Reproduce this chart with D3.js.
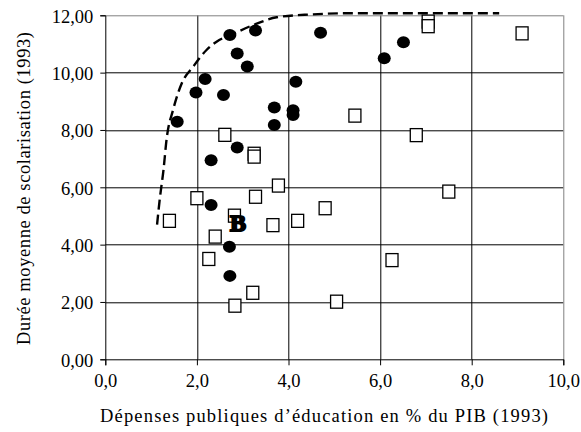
<!DOCTYPE html>
<html>
<head>
  <script src="https://d3js.org/d3.v7.min.js"></script>
  <style>
    body { margin: 0; background: #fff; }
    text { font-family: "Liberation Serif", "Times New Roman", serif; fill: #000; }
    .grid line { stroke: #000; stroke-width: 1; }
    .axis path, .axis line { stroke: #000; }
    .square { fill: #fff; stroke: #000; stroke-width: 1.3; }
    .dot { fill: #000; }
  </style>
</head>
<body>
  <svg width="581" height="432"></svg>
  <script>
    // filled circles
    var dotX = [2.72, 3.28, 2.88, 3.10, 2.18, 1.98, 2.58, 1.57, 3.69, 3.69, 4.10, 4.10, 4.16, 4.70, 6.51, 6.09, 2.88, 2.31, 2.31, 2.71, 2.72];
    var dotY = [11.31, 11.47, 10.67, 10.21, 9.78, 9.31, 9.22, 8.29, 8.78, 8.17, 8.69, 8.52, 9.68, 11.39, 11.06, 10.50, 7.39, 6.94, 5.38, 3.93, 2.91];

    // open squares
    var sqX = [2.61, 3.25, 3.25, 2.00, 3.28, 3.78, 1.40, 2.82, 2.40, 3.66, 4.20, 2.26, 3.22, 2.83, 4.80, 6.26, 5.05, 7.05, 7.05, 9.10, 5.45, 6.79, 7.50];
    var sqY = [7.83, 7.17, 7.07, 5.62, 5.67, 6.06, 4.83, 5.01, 4.28, 4.68, 4.83, 3.50, 2.32, 1.87, 5.27, 3.46, 2.01, 11.78, 11.62, 11.37, 8.50, 7.82, 5.85];

    // odd black marker
    var labelX = [2.90];
    var labelY = [4.76];
    var labelText = ["B"];

    // dashed envelope curve
    var curveX = [1.13, 1.19, 1.27, 1.34, 1.48, 1.67, 1.92, 2.21, 2.43, 2.79, 3.23, 3.74, 4.50, 5.27, 6.50, 8.60];
    var curveY = [4.70, 5.60, 6.60, 7.70, 8.70, 9.63, 10.21, 10.79, 11.08, 11.35, 11.66, 11.93, 12.03, 12.07, 12.07, 12.07];

    var xTicks = [0, 2, 4, 6, 8, 10];
    var yTicks = [0, 2, 4, 6, 8, 10, 12];

    var svg = d3.select("svg"),
      margin = {top: 15.3, right: 17.7, bottom: 72.7, left: 105.3},
      width = +svg.attr("width") - margin.left - margin.right,
      height = +svg.attr("height") - margin.top - margin.bottom;

    var x = d3.scaleLinear().domain([0, 10]).range([0, width]),
      y = d3.scaleLinear().domain([0, 12]).range([height, 0]);

    var g = svg.append("g")
      .attr("transform", "translate(" + margin.left + "," + margin.top + ")");

    // grid
    var grid = g.append("g").attr("class", "grid");
    grid.selectAll(".hl").data(yTicks.filter(function(d) { return d > 0 && d < 12; }))
      .enter().append("line")
      .attr("x1", 0).attr("x2", width)
      .attr("y1", function(d) { return Math.round(y(d)) + 0.5; })
      .attr("y2", function(d) { return Math.round(y(d)) + 0.5; });
    grid.selectAll(".vl").data(xTicks.filter(function(d) { return d > 0 && d < 10; }))
      .enter().append("line")
      .attr("y1", 0).attr("y2", height)
      .attr("x1", function(d) { return Math.round(x(d)) + 0.5; })
      .attr("x2", function(d) { return Math.round(x(d)) + 0.5; });

    // gray frame top/right
    g.append("line").attr("x1", 0).attr("x2", width).attr("y1", 0.5).attr("y2", 0.5)
      .attr("stroke", "#808080");
    g.append("line").attr("x1", Math.round(width) + 0.5).attr("x2", Math.round(width) + 0.5)
      .attr("y1", 0).attr("y2", height).attr("stroke", "#808080");

    // axes
    var fmtX = function(d) { return d3.format(".1f")(d).replace(".", ","); };
    var fmtY = function(d) { return d3.format(".2f")(d).replace(".", ","); };

    var xAxis = g.append("g")
      .attr("class", "axis")
      .attr("transform", "translate(0," + height + ")")
      .call(d3.axisBottom(x).tickValues(xTicks).tickFormat(fmtX).tickSize(6).tickPadding(9));
    xAxis.selectAll("text").attr("font-size", 18.5).style("font-family", "Liberation Serif");

    var yAxis = g.append("g")
      .attr("class", "axis")
      .call(d3.axisLeft(y).tickValues(yTicks).tickFormat(fmtY).tickSize(5).tickPadding(7));
    yAxis.selectAll("text").attr("font-size", 18.5).attr("dy", "0.38em").style("font-family", "Liberation Serif");

    // dashed curve
    var curvePts = curveX.map(function(d, i) { return [d, curveY[i]]; });
    g.append("path")
      .datum(curvePts)
      .attr("fill", "none")
      .attr("stroke", "#000")
      .attr("stroke-width", 2.4)
      .attr("stroke-dasharray", "10,5")
      .attr("d", d3.line()
        .x(function(d) { return x(d[0]); })
        .y(function(d) { return y(d[1]); })
        .curve(d3.curveMonotoneX));

    // squares
    g.selectAll(".square")
      .data(sqX.map(function(d, i) { return [d, sqY[i]]; }))
      .enter().append("rect")
      .attr("class", "square")
      .attr("x", function(d) { return x(d[0]) - 6; })
      .attr("y", function(d) { return y(d[1]) - 6.5; })
      .attr("width", 12)
      .attr("height", 13);

    // dots
    g.selectAll(".dot")
      .data(dotX.map(function(d, i) { return [d, dotY[i]]; }))
      .enter().append("ellipse")
      .attr("class", "dot")
      .attr("cx", function(d) { return x(d[0]); })
      .attr("cy", function(d) { return y(d[1]); })
      .attr("rx", 6.5)
      .attr("ry", 6);

    // B marker
    g.selectAll(".lbl")
      .data(labelText)
      .enter().append("text")
      .attr("x", function(d, i) { return x(labelX[i]); })
      .attr("y", function(d, i) { return y(labelY[i]); })
      .attr("dy", "0.35em")
      .attr("text-anchor", "middle")
      .attr("font-size", 24)
      .attr("font-weight", "bold")
      .attr("stroke", "#000")
      .attr("stroke-width", 2)
      .text(function(d) { return d; });

    // axis titles
    svg.append("text")
      .attr("x", 100)
      .attr("y", 422)
      .attr("font-size", 18.5)
      .attr("textLength", 448)
      .attr("lengthAdjust", "spacing")
      .text("Dépenses publiques d’éducation en % du PIB (1993)");

    svg.append("text")
      .attr("transform", "translate(30,345) rotate(-90)")
      .attr("font-size", 18.5)
      .attr("textLength", 313)
      .attr("lengthAdjust", "spacing")
      .text("Durée moyenne de scolarisation (1993)");
  </script>
</body>
</html>
